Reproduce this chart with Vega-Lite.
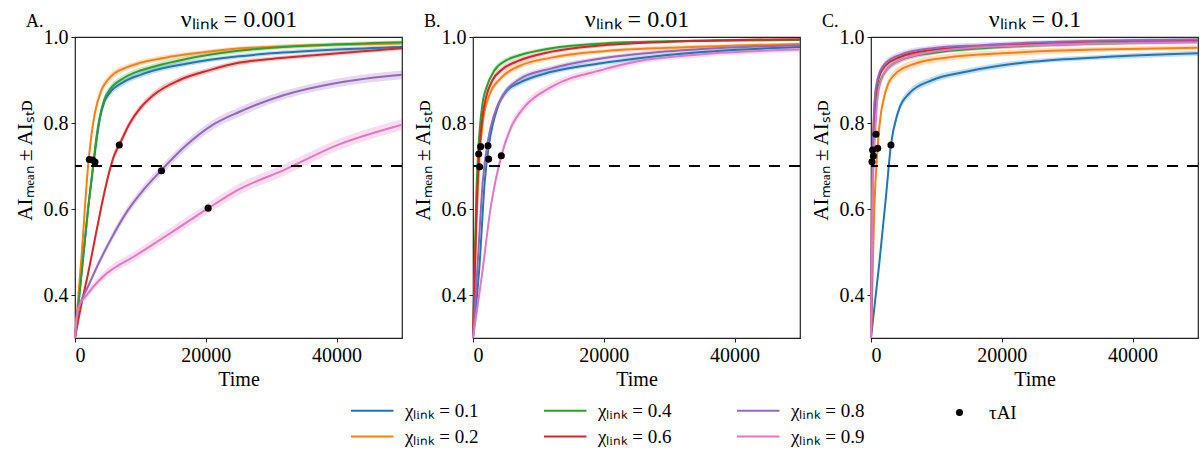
{
"$schema": "https://vega.github.io/schema/vega-lite/v6.json",
"padding": {"left": 13, "top": 6, "right": 0, "bottom": 0},
"config": {
  "font": "Liberation Serif",
  "view": {"stroke": "#222", "strokeWidth": 1.2},
  "axis": {"grid": false, "domain": false, "tickColor": "#222", "tickSize": 4, "labelFontSize": 20, "titleFontSize": 20, "labelColor": "#000", "titleColor": "#000", "titleFontWeight": "normal", "labelPadding": 3, "labelFont": "Liberation Serif", "titleFont": "Liberation Serif"},
  "axisLeft": {"titlePadding": 8, "titleY": 123, "titleFontSize": 21},
  "axisBottom": {"titlePadding": 4},
  "title": {"fontSize": 18, "fontWeight": "normal", "font": "Liberation Serif", "color": "#000"},
  "legend": {"labelFontSize": 19, "labelFont": "Liberation Serif", "labelColor": "#000"}
},
"datasets": {
"A": [
{"c":"0.1","t":0,"m":0.30,"s":0.003},{"c":"0.1","t":1000,"m":0.45,"s":0.006},{"c":"0.1","t":2000,"m":0.60,"s":0.008},{"c":"0.1","t":2800,"m":0.70,"s":0.01},{"c":"0.1","t":3300,"m":0.76,"s":0.01},{"c":"0.1","t":3800,"m":0.81,"s":0.01},{"c":"0.1","t":4500,"m":0.85,"s":0.01},{"c":"0.1","t":5300,"m":0.87,"s":0.009},{"c":"0.1","t":7400,"m":0.895,"s":0.008},{"c":"0.1","t":10000,"m":0.912,"s":0.007},{"c":"0.1","t":12000,"m":0.922,"s":0.007},{"c":"0.1","t":17000,"m":0.938,"s":0.006},{"c":"0.1","t":25000,"m":0.955,"s":0.005},{"c":"0.1","t":30000,"m":0.962,"s":0.005},{"c":"0.1","t":40000,"m":0.971,"s":0.005},{"c":"0.1","t":50000,"m":0.977,"s":0.004},
{"c":"0.2","t":0,"m":0.30,"s":0.004},{"c":"0.2","t":1000,"m":0.49,"s":0.008},{"c":"0.2","t":2000,"m":0.70,"s":0.012},{"c":"0.2","t":2500,"m":0.77,"s":0.012},{"c":"0.2","t":3000,"m":0.82,"s":0.012},{"c":"0.2","t":4000,"m":0.875,"s":0.01},{"c":"0.2","t":5000,"m":0.90,"s":0.009},{"c":"0.2","t":6000,"m":0.915,"s":0.008},{"c":"0.2","t":8000,"m":0.93,"s":0.007},{"c":"0.2","t":10000,"m":0.94,"s":0.006},{"c":"0.2","t":15000,"m":0.955,"s":0.006},{"c":"0.2","t":20000,"m":0.965,"s":0.005},{"c":"0.2","t":25000,"m":0.973,"s":0.005},{"c":"0.2","t":30000,"m":0.977,"s":0.005},{"c":"0.2","t":40000,"m":0.982,"s":0.004},{"c":"0.2","t":50000,"m":0.985,"s":0.004},
{"c":"0.4","t":0,"m":0.30,"s":0.003},{"c":"0.4","t":1000,"m":0.45,"s":0.006},{"c":"0.4","t":2000,"m":0.60,"s":0.008},{"c":"0.4","t":2800,"m":0.706,"s":0.01},{"c":"0.4","t":3300,"m":0.77,"s":0.01},{"c":"0.4","t":3800,"m":0.815,"s":0.01},{"c":"0.4","t":4500,"m":0.855,"s":0.01},{"c":"0.4","t":5300,"m":0.877,"s":0.009},{"c":"0.4","t":7400,"m":0.904,"s":0.008},{"c":"0.4","t":10000,"m":0.922,"s":0.007},{"c":"0.4","t":12000,"m":0.931,"s":0.007},{"c":"0.4","t":17000,"m":0.949,"s":0.006},{"c":"0.4","t":25000,"m":0.968,"s":0.006},{"c":"0.4","t":30000,"m":0.975,"s":0.005},{"c":"0.4","t":40000,"m":0.983,"s":0.005},{"c":"0.4","t":50000,"m":0.988,"s":0.004},
{"c":"0.6","t":0,"m":0.30,"s":0.003},{"c":"0.6","t":1000,"m":0.38,"s":0.005},{"c":"0.6","t":2000,"m":0.45,"s":0.007},{"c":"0.6","t":3300,"m":0.55,"s":0.009},{"c":"0.6","t":4300,"m":0.625,"s":0.01},{"c":"0.6","t":5300,"m":0.69,"s":0.01},{"c":"0.6","t":6000,"m":0.725,"s":0.01},{"c":"0.6","t":6800,"m":0.75,"s":0.01},{"c":"0.6","t":8400,"m":0.80,"s":0.009},{"c":"0.6","t":10000,"m":0.835,"s":0.008},{"c":"0.6","t":12000,"m":0.865,"s":0.008},{"c":"0.6","t":16000,"m":0.90,"s":0.007},{"c":"0.6","t":20600,"m":0.923,"s":0.006},{"c":"0.6","t":25000,"m":0.94,"s":0.006},{"c":"0.6","t":30000,"m":0.949,"s":0.005},{"c":"0.6","t":37000,"m":0.958,"s":0.005},{"c":"0.6","t":44000,"m":0.967,"s":0.005},{"c":"0.6","t":50000,"m":0.974,"s":0.005},
{"c":"0.8","t":0,"m":0.30,"s":0.003},{"c":"0.8","t":300,"m":0.35,"s":0.005},{"c":"0.8","t":800,"m":0.38,"s":0.006},{"c":"0.8","t":2000,"m":0.42,"s":0.007},{"c":"0.8","t":3500,"m":0.47,"s":0.008},{"c":"0.8","t":5500,"m":0.53,"s":0.009},{"c":"0.8","t":8000,"m":0.595,"s":0.01},{"c":"0.8","t":10500,"m":0.645,"s":0.01},{"c":"0.8","t":13200,"m":0.69,"s":0.011},{"c":"0.8","t":17000,"m":0.748,"s":0.011},{"c":"0.8","t":21000,"m":0.795,"s":0.011},{"c":"0.8","t":25000,"m":0.825,"s":0.011},{"c":"0.8","t":32000,"m":0.865,"s":0.01},{"c":"0.8","t":40000,"m":0.893,"s":0.01},{"c":"0.8","t":50000,"m":0.912,"s":0.01},
{"c":"0.9","t":0,"m":0.30,"s":0.003},{"c":"0.9","t":200,"m":0.34,"s":0.005},{"c":"0.9","t":500,"m":0.37,"s":0.006},{"c":"0.9","t":1800,"m":0.40,"s":0.008},{"c":"0.9","t":4300,"m":0.443,"s":0.01},{"c":"0.9","t":9400,"m":0.493,"s":0.011},{"c":"0.9","t":14500,"m":0.543,"s":0.012},{"c":"0.9","t":20400,"m":0.602,"s":0.012},{"c":"0.9","t":25000,"m":0.645,"s":0.013},{"c":"0.9","t":32000,"m":0.691,"s":0.013},{"c":"0.9","t":40000,"m":0.748,"s":0.013},{"c":"0.9","t":50000,"m":0.796,"s":0.013}
],
"B": [
{"c":"0.1","t":0,"m":0.30,"s":0.004},{"c":"0.1","t":1000,"m":0.47,"s":0.008},{"c":"0.1","t":1800,"m":0.665,"s":0.01},{"c":"0.1","t":2500,"m":0.755,"s":0.01},{"c":"0.1","t":3800,"m":0.838,"s":0.009},{"c":"0.1","t":5300,"m":0.877,"s":0.008},{"c":"0.1","t":6900,"m":0.892,"s":0.007},{"c":"0.1","t":12000,"m":0.919,"s":0.006},{"c":"0.1","t":19600,"m":0.939,"s":0.005},{"c":"0.1","t":25000,"m":0.95,"s":0.005},{"c":"0.1","t":35000,"m":0.965,"s":0.004},{"c":"0.1","t":50000,"m":0.977,"s":0.004},
{"c":"0.2","t":0,"m":0.30,"s":0.004},{"c":"0.2","t":500,"m":0.55,"s":0.01},{"c":"0.2","t":1000,"m":0.72,"s":0.011},{"c":"0.2","t":1500,"m":0.80,"s":0.01},{"c":"0.2","t":2500,"m":0.865,"s":0.009},{"c":"0.2","t":4300,"m":0.905,"s":0.008},{"c":"0.2","t":7000,"m":0.932,"s":0.007},{"c":"0.2","t":12000,"m":0.952,"s":0.006},{"c":"0.2","t":20000,"m":0.967,"s":0.005},{"c":"0.2","t":30000,"m":0.975,"s":0.005},{"c":"0.2","t":40000,"m":0.98,"s":0.004},{"c":"0.2","t":50000,"m":0.984,"s":0.004},
{"c":"0.4","t":0,"m":0.30,"s":0.004},{"c":"0.4","t":250,"m":0.47,"s":0.008},{"c":"0.4","t":500,"m":0.63,"s":0.01},{"c":"0.4","t":1000,"m":0.78,"s":0.01},{"c":"0.4","t":1500,"m":0.85,"s":0.009},{"c":"0.4","t":2000,"m":0.88,"s":0.008},{"c":"0.4","t":3300,"m":0.923,"s":0.007},{"c":"0.4","t":5000,"m":0.945,"s":0.006},{"c":"0.4","t":7000,"m":0.957,"s":0.005},{"c":"0.4","t":12000,"m":0.974,"s":0.004},{"c":"0.4","t":20000,"m":0.985,"s":0.004},{"c":"0.4","t":30000,"m":0.99,"s":0.003},{"c":"0.4","t":40000,"m":0.992,"s":0.003},{"c":"0.4","t":50000,"m":0.993,"s":0.003},
{"c":"0.6","t":0,"m":0.30,"s":0.004},{"c":"0.6","t":500,"m":0.58,"s":0.01},{"c":"0.6","t":1000,"m":0.74,"s":0.011},{"c":"0.6","t":1500,"m":0.82,"s":0.01},{"c":"0.6","t":2000,"m":0.86,"s":0.009},{"c":"0.6","t":3000,"m":0.90,"s":0.008},{"c":"0.6","t":4500,"m":0.925,"s":0.007},{"c":"0.6","t":7000,"m":0.945,"s":0.006},{"c":"0.6","t":12000,"m":0.966,"s":0.005},{"c":"0.6","t":20000,"m":0.981,"s":0.004},{"c":"0.6","t":30000,"m":0.989,"s":0.003},{"c":"0.6","t":40000,"m":0.993,"s":0.003},{"c":"0.6","t":50000,"m":0.995,"s":0.003},
{"c":"0.8","t":0,"m":0.30,"s":0.004},{"c":"0.8","t":700,"m":0.47,"s":0.008},{"c":"0.8","t":1500,"m":0.665,"s":0.01},{"c":"0.8","t":2300,"m":0.76,"s":0.01},{"c":"0.8","t":3300,"m":0.822,"s":0.009},{"c":"0.8","t":4800,"m":0.869,"s":0.008},{"c":"0.8","t":6900,"m":0.90,"s":0.007},{"c":"0.8","t":12000,"m":0.927,"s":0.006},{"c":"0.8","t":19600,"m":0.95,"s":0.005},{"c":"0.8","t":25000,"m":0.96,"s":0.005},{"c":"0.8","t":35000,"m":0.972,"s":0.004},{"c":"0.8","t":50000,"m":0.981,"s":0.004},
{"c":"0.9","t":0,"m":0.30,"s":0.004},{"c":"0.9","t":1270,"m":0.435,"s":0.008},{"c":"0.9","t":2800,"m":0.613,"s":0.01},{"c":"0.9","t":4300,"m":0.722,"s":0.011},{"c":"0.9","t":5850,"m":0.791,"s":0.011},{"c":"0.9","t":7900,"m":0.838,"s":0.01},{"c":"0.9","t":12000,"m":0.884,"s":0.009},{"c":"0.9","t":19600,"m":0.923,"s":0.008},{"c":"0.9","t":25000,"m":0.943,"s":0.007},{"c":"0.9","t":35000,"m":0.96,"s":0.007},{"c":"0.9","t":50000,"m":0.971,"s":0.006}
],
"C": [
{"c":"0.1","t":0,"m":0.30,"s":0.004},{"c":"0.1","t":1270,"m":0.474,"s":0.007},{"c":"0.1","t":2290,"m":0.629,"s":0.009},{"c":"0.1","t":3050,"m":0.749,"s":0.01},{"c":"0.1","t":4070,"m":0.822,"s":0.01},{"c":"0.1","t":5850,"m":0.869,"s":0.009},{"c":"0.1","t":9400,"m":0.90,"s":0.008},{"c":"0.1","t":14500,"m":0.919,"s":0.007},{"c":"0.1","t":19600,"m":0.933,"s":0.007},{"c":"0.1","t":25000,"m":0.943,"s":0.006},{"c":"0.1","t":35000,"m":0.953,"s":0.006},{"c":"0.1","t":50000,"m":0.962,"s":0.006},
{"c":"0.2","t":0,"m":0.30,"s":0.005},{"c":"0.2","t":500,"m":0.60,"s":0.01},{"c":"0.2","t":1000,"m":0.74,"s":0.012},{"c":"0.2","t":1500,"m":0.82,"s":0.012},{"c":"0.2","t":2000,"m":0.86,"s":0.011},{"c":"0.2","t":3300,"m":0.908,"s":0.01},{"c":"0.2","t":6900,"m":0.939,"s":0.009},{"c":"0.2","t":12000,"m":0.953,"s":0.008},{"c":"0.2","t":20000,"m":0.962,"s":0.007},{"c":"0.2","t":25000,"m":0.966,"s":0.007},{"c":"0.2","t":35000,"m":0.971,"s":0.006},{"c":"0.2","t":50000,"m":0.975,"s":0.006},
{"c":"0.4","t":0,"m":0.30,"s":0.004},{"c":"0.4","t":200,"m":0.60,"s":0.008},{"c":"0.4","t":400,"m":0.76,"s":0.009},{"c":"0.4","t":900,"m":0.87,"s":0.008},{"c":"0.4","t":2000,"m":0.915,"s":0.007},{"c":"0.4","t":4330,"m":0.945,"s":0.006},{"c":"0.4","t":9400,"m":0.963,"s":0.005},{"c":"0.4","t":17000,"m":0.974,"s":0.005},{"c":"0.4","t":25000,"m":0.98,"s":0.004},{"c":"0.4","t":35000,"m":0.985,"s":0.004},{"c":"0.4","t":50000,"m":0.989,"s":0.004},
{"c":"0.6","t":0,"m":0.30,"s":0.004},{"c":"0.6","t":150,"m":0.60,"s":0.008},{"c":"0.6","t":360,"m":0.77,"s":0.009},{"c":"0.6","t":760,"m":0.875,"s":0.008},{"c":"0.6","t":1780,"m":0.925,"s":0.007},{"c":"0.6","t":4330,"m":0.953,"s":0.006},{"c":"0.6","t":9400,"m":0.97,"s":0.005},{"c":"0.6","t":17000,"m":0.978,"s":0.005},{"c":"0.6","t":25000,"m":0.985,"s":0.004},{"c":"0.6","t":35000,"m":0.99,"s":0.004},{"c":"0.6","t":50000,"m":0.993,"s":0.004},
{"c":"0.8","t":0,"m":0.30,"s":0.004},{"c":"0.8","t":150,"m":0.62,"s":0.008},{"c":"0.8","t":360,"m":0.784,"s":0.009},{"c":"0.8","t":760,"m":0.884,"s":0.009},{"c":"0.8","t":1780,"m":0.931,"s":0.008},{"c":"0.8","t":4330,"m":0.958,"s":0.007},{"c":"0.8","t":9400,"m":0.974,"s":0.006},{"c":"0.8","t":17000,"m":0.981,"s":0.006},{"c":"0.8","t":25000,"m":0.987,"s":0.005},{"c":"0.8","t":35000,"m":0.991,"s":0.005},{"c":"0.8","t":50000,"m":0.994,"s":0.005},
{"c":"0.9","t":0,"m":0.30,"s":0.005},{"c":"0.9","t":250,"m":0.629,"s":0.01},{"c":"0.9","t":660,"m":0.784,"s":0.01},{"c":"0.9","t":1270,"m":0.884,"s":0.009},{"c":"0.9","t":2800,"m":0.931,"s":0.008},{"c":"0.9","t":6870,"m":0.958,"s":0.007},{"c":"0.9","t":14500,"m":0.974,"s":0.006},{"c":"0.9","t":25000,"m":0.981,"s":0.006},{"c":"0.9","t":35000,"m":0.985,"s":0.005},{"c":"0.9","t":50000,"m":0.988,"s":0.005}
],
"tA": [{"k":"τAI","t":3050,"m":0.709},{"k":"τAI","t":2190,"m":0.715},{"k":"τAI","t":2700,"m":0.714},{"k":"τAI","t":6770,"m":0.749},{"k":"τAI","t":13230,"m":0.689},{"k":"τAI","t":20360,"m":0.602}],
"tB": [{"k":"τAI","t":870,"m":0.728},{"k":"τAI","t":1020,"m":0.698},{"k":"τAI","t":1170,"m":0.745},{"k":"τAI","t":2290,"m":0.747},{"k":"τAI","t":2390,"m":0.716},{"k":"τAI","t":4330,"m":0.724}],
"tC": [{"k":"τAI","t":3050,"m":0.749},{"k":"τAI","t":1020,"m":0.741},{"k":"τAI","t":760,"m":0.774},{"k":"τAI","t":360,"m":0.723},{"k":"τAI","t":250,"m":0.737},{"k":"τAI","t":150,"m":0.71}]
},
"bounds": "flush",
"spacing": 71,
"resolve": {"scale": {"color": "shared", "shape": "shared"}, "legend": {"color": "shared", "shape": "shared"}},
"hconcat": [
{
 "width": 327, "height": 301,
 "title": {"text": "A.", "anchor": "start", "frame": "bounds", "offset": -24, "dx": 12},
 "layer": [
  {"data": {"name": "A"}, "mark": {"type": "errorband", "interpolate": "monotone", "band": {"opacity": 0.25}},
   "encoding": {
    "x": {"field": "t", "type": "quantitative", "scale": {"domain": [0, 50000], "nice": false}, "axis": null},
    "y": {"field": "m", "type": "quantitative", "scale": {"domain": [0.3, 1.0], "nice": false, "zero": false}, "axis": {"title": "AIₘₑₐₙ ± AIₛₜᴅ", "values": [0.4, 0.6, 0.8, 1.0], "format": ".1f"}},
    "yError": {"field": "s"},
    "color": {"field": "c", "type": "nominal", "scale": {"domain": ["0.1","0.2","0.4","0.6","0.8","0.9"], "range": ["#1f77b4","#ff7f0e","#2ca02c","#d62728","#9467bd","#e377c2"]}}
   }},
  {"data": {"name": "A"}, "mark": {"type": "line", "interpolate": "monotone", "strokeWidth": 2},
   "encoding": {
    "x": {"field": "t", "type": "quantitative", "axis": {"title": "Time", "values": [0, 20000, 40000], "format": "d"}},
    "y": {"field": "m", "type": "quantitative", "axis": {"title": "AIₘₑₐₙ ± AIₛₜᴅ", "values": [0.4, 0.6, 0.8, 1.0], "format": ".1f"}},
    "color": {"field": "c", "type": "nominal", "scale": {"domain": ["0.1","0.2","0.4","0.6","0.8","0.9"], "range": ["#1f77b4","#ff7f0e","#2ca02c","#d62728","#9467bd","#e377c2"]}, "legend": {"orient": "none", "direction": "vertical", "legendX": 275, "legendY": 364, "columns": 3, "title": null, "symbolType": "M-1,0H4", "symbolSize": 289, "symbolStrokeWidth": 2, "symbolOpacity": 1, "symbolFillColor": "transparent", "labelOffset": 36, "columnPadding": 61, "rowPadding": 6, "labelExpr": "'χₗᵢₙₖ = ' + datum.label", "encode": {"symbols": {"update": {"opacity": {"value": 1}, "strokeOpacity": {"value": 1}, "fillOpacity": {"value": 0}, "strokeWidth": {"value": 2}}}}}}
   }},
  {"data": {"values": [{}]}, "mark": {"type": "rule", "strokeDash": [11, 9], "strokeWidth": 2, "color": "black"}, "encoding": {"y": {"datum": 0.7}}},
  {"data": {"name": "tA"}, "mark": {"type": "point", "filled": true, "size": 50, "color": "black", "opacity": 1},
   "encoding": {
    "x": {"field": "t", "type": "quantitative", "axis": {"orient": "top", "title": "νₗᵢₙₖ = 0.001", "titleFontSize": 24, "labels": false, "ticks": false, "domain": false, "titlePadding": 6}},
    "y": {"field": "m", "type": "quantitative"},
    "shape": {"field": "k", "type": "nominal", "scale": {"range": ["circle"]}, "legend": {"orient": "none", "legendX": 875, "legendY": 366, "title": null, "symbolSize": 50, "symbolFillColor": "black", "symbolStrokeColor": "black", "labelOffset": 20}}
   }}
 ],
 "resolve": {"axis": {"x": "independent"}}
},
{
 "width": 327, "height": 301,
 "title": {"text": "B.", "anchor": "start", "frame": "bounds", "offset": -24, "dx": 12},
 "layer": [
  {"data": {"name": "B"}, "mark": {"type": "errorband", "interpolate": "monotone", "band": {"opacity": 0.25}},
   "encoding": {
    "x": {"field": "t", "type": "quantitative", "scale": {"domain": [0, 50000], "nice": false}, "axis": null},
    "y": {"field": "m", "type": "quantitative", "scale": {"domain": [0.3, 1.0], "nice": false, "zero": false}, "axis": {"title": "AIₘₑₐₙ ± AIₛₜᴅ", "values": [0.4, 0.6, 0.8, 1.0], "format": ".1f"}},
    "yError": {"field": "s"},
    "color": {"field": "c", "type": "nominal", "scale": {"domain": ["0.1","0.2","0.4","0.6","0.8","0.9"], "range": ["#1f77b4","#ff7f0e","#2ca02c","#d62728","#9467bd","#e377c2"]}}
   }},
  {"data": {"name": "B"}, "mark": {"type": "line", "interpolate": "monotone", "strokeWidth": 2},
   "encoding": {
    "x": {"field": "t", "type": "quantitative", "axis": {"title": "Time", "values": [0, 20000, 40000], "format": "d"}},
    "y": {"field": "m", "type": "quantitative", "axis": {"title": "AIₘₑₐₙ ± AIₛₜᴅ", "values": [0.4, 0.6, 0.8, 1.0], "format": ".1f"}},
    "color": {"field": "c", "type": "nominal", "scale": {"domain": ["0.1","0.2","0.4","0.6","0.8","0.9"], "range": ["#1f77b4","#ff7f0e","#2ca02c","#d62728","#9467bd","#e377c2"]}}
   }},
  {"data": {"values": [{}]}, "mark": {"type": "rule", "strokeDash": [11, 9], "strokeWidth": 2, "color": "black"}, "encoding": {"y": {"datum": 0.7}}},
  {"data": {"name": "tB"}, "mark": {"type": "point", "filled": true, "size": 50, "color": "black", "opacity": 1},
   "encoding": {
    "x": {"field": "t", "type": "quantitative", "axis": {"orient": "top", "title": "νₗᵢₙₖ = 0.01", "titleFontSize": 24, "labels": false, "ticks": false, "domain": false, "titlePadding": 6}},
    "y": {"field": "m", "type": "quantitative"},
    "shape": {"field": "k", "type": "nominal"}
   }}
 ],
 "resolve": {"axis": {"x": "independent"}}
},
{
 "width": 327, "height": 301,
 "title": {"text": "C.", "anchor": "start", "frame": "bounds", "offset": -24, "dx": 12},
 "layer": [
  {"data": {"name": "C"}, "mark": {"type": "errorband", "interpolate": "monotone", "band": {"opacity": 0.25}},
   "encoding": {
    "x": {"field": "t", "type": "quantitative", "scale": {"domain": [0, 50000], "nice": false}, "axis": null},
    "y": {"field": "m", "type": "quantitative", "scale": {"domain": [0.3, 1.0], "nice": false, "zero": false}, "axis": {"title": "AIₘₑₐₙ ± AIₛₜᴅ", "values": [0.4, 0.6, 0.8, 1.0], "format": ".1f"}},
    "yError": {"field": "s"},
    "color": {"field": "c", "type": "nominal", "scale": {"domain": ["0.1","0.2","0.4","0.6","0.8","0.9"], "range": ["#1f77b4","#ff7f0e","#2ca02c","#d62728","#9467bd","#e377c2"]}}
   }},
  {"data": {"name": "C"}, "mark": {"type": "line", "interpolate": "monotone", "strokeWidth": 2},
   "encoding": {
    "x": {"field": "t", "type": "quantitative", "axis": {"title": "Time", "values": [0, 20000, 40000], "format": "d"}},
    "y": {"field": "m", "type": "quantitative", "axis": {"title": "AIₘₑₐₙ ± AIₛₜᴅ", "values": [0.4, 0.6, 0.8, 1.0], "format": ".1f"}},
    "color": {"field": "c", "type": "nominal", "scale": {"domain": ["0.1","0.2","0.4","0.6","0.8","0.9"], "range": ["#1f77b4","#ff7f0e","#2ca02c","#d62728","#9467bd","#e377c2"]}}
   }},
  {"data": {"values": [{}]}, "mark": {"type": "rule", "strokeDash": [11, 9], "strokeWidth": 2, "color": "black"}, "encoding": {"y": {"datum": 0.7}}},
  {"data": {"name": "tC"}, "mark": {"type": "point", "filled": true, "size": 50, "color": "black", "opacity": 1},
   "encoding": {
    "x": {"field": "t", "type": "quantitative", "axis": {"orient": "top", "title": "νₗᵢₙₖ = 0.1", "titleFontSize": 24, "labels": false, "ticks": false, "domain": false, "titlePadding": 6}},
    "y": {"field": "m", "type": "quantitative"},
    "shape": {"field": "k", "type": "nominal"}
   }}
 ],
 "resolve": {"axis": {"x": "independent"}}
}
]
}
